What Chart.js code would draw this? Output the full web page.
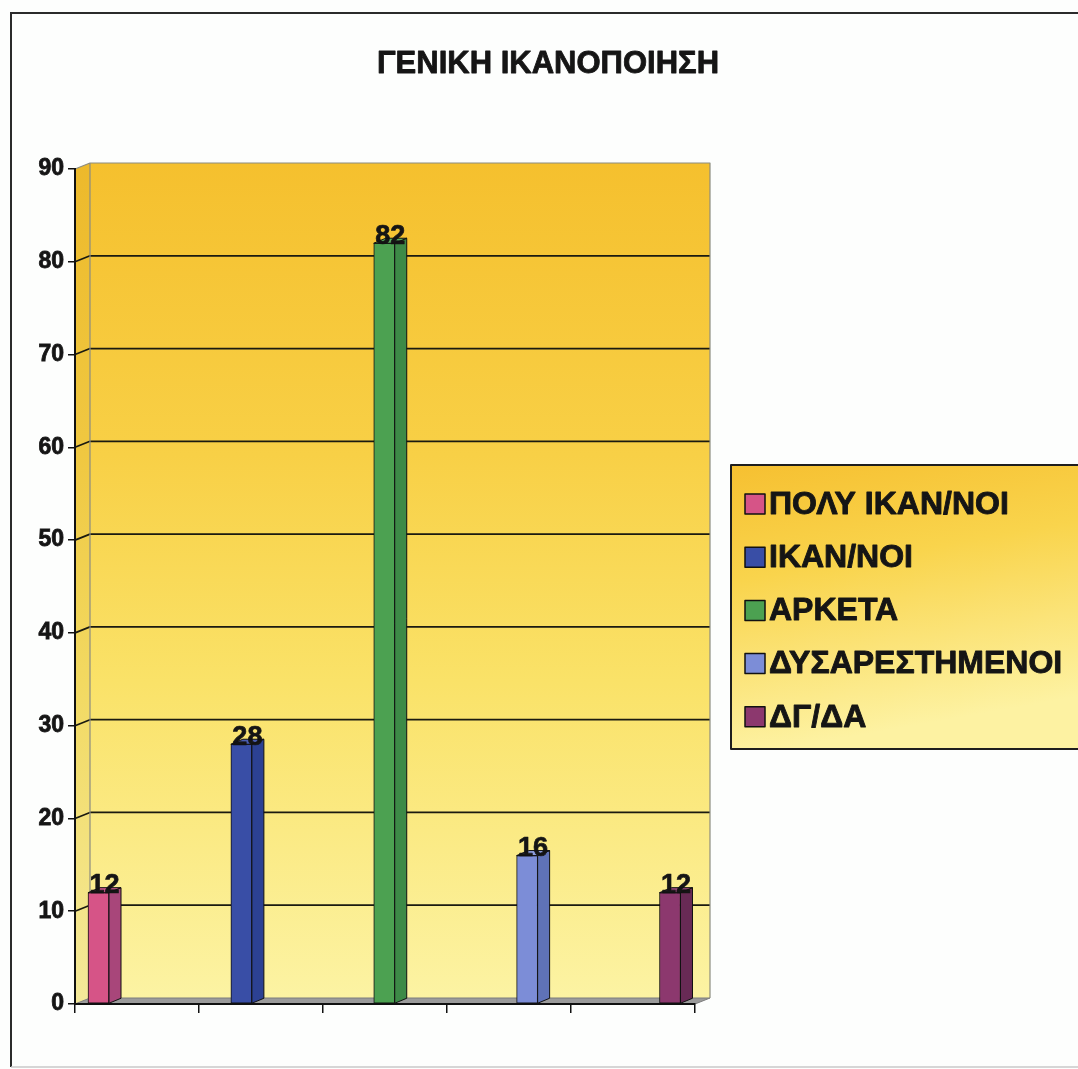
<!DOCTYPE html>
<html>
<head>
<meta charset="utf-8">
<title>ΓΕΝΙΚΗ ΙΚΑΝΟΠΟΙΗΣΗ</title>
<script src="https://cdn.jsdelivr.net/npm/chart.js@4.4.1/dist/chart.umd.min.js"></script>
<style>
  html, body { margin: 0; padding: 0; background: #ffffff; }
  canvas { display: block; }
</style>
</head>
<body>
<canvas id="chart" width="1078" height="1069"></canvas>
<script>
// ---- data ----
const chartTitle = 'ΓΕΝΙΚΗ ΙΚΑΝΟΠΟΙΗΣΗ';
const categories = ['ΠΟΛΥ ΙΚΑΝ/ΝΟΙ', 'ΙΚΑΝ/ΝΟΙ', 'ΑΡΚΕΤΑ', 'ΔΥΣΑΡΕΣΤΗΜΕΝΟΙ', 'ΔΓ/ΔΑ'];
const counts = [12, 28, 82, 16, 12];
const yTicks = [0, 10, 20, 30, 40, 50, 60, 70, 80, 90];

// ---- styling ----
const frontColors = ['#d65487', '#394ea6', '#4ca151', '#7c8dd7', '#8c386e'];
const sideColors  = ['#a8467a', '#2c4193', '#3d8a47', '#5f72b7', '#682a55'];
const topColors   = ['#c95a8c', '#4a5db0', '#5aae5e', '#8e9ddd', '#9a4a7c'];

const FONT = '"Liberation Sans", Arial, Helvetica, sans-serif';
const INK = '#151515';
const WALL_DX = 15, WALL_DY = -6;   // depth of the back wall
const BAR_DX = 12, BAR_DY = -5;     // depth of each column

function wallGradient(ctx, top, bottom) {
  const g = ctx.createLinearGradient(0, top, 0, bottom);
  g.addColorStop(0.00, '#f5c02e');
  g.addColorStop(0.35, '#f8d046');
  g.addColorStop(0.62, '#fae268');
  g.addColorStop(1.00, '#fcf3a3');
  return g;
}

// heavy text: fill plus a thin outline in the same ink
function heavyText(ctx, text, x, y, stroke) {
  ctx.fillText(text, x, y);
  ctx.lineWidth = stroke;
  ctx.strokeStyle = ctx.fillStyle;
  ctx.strokeText(text, x, y);
}

// Background, frame, title, 3D walls and legend panel
const scenery = {
  id: 'scenery',
  beforeDraw(chart) {
    const { ctx, chartArea: a, scales: { y } } = chart;
    const L = a.left, R = a.right, T = a.top, B = a.bottom;
    ctx.save();

    ctx.fillStyle = '#fdfefd';
    ctx.fillRect(0, 0, chart.width, chart.height);

    // outer frame
    ctx.strokeStyle = '#2b2b2b';
    ctx.lineWidth = 2;
    ctx.beginPath();
    ctx.moveTo(11, 1067);
    ctx.lineTo(11, 13);
    ctx.lineTo(chart.width + 2, 13);
    ctx.stroke();
    ctx.strokeStyle = '#c9c9c9';
    ctx.lineWidth = 1.5;
    ctx.beginPath();
    ctx.moveTo(11, 1067);
    ctx.lineTo(chart.width, 1067);
    ctx.stroke();

    // title
    ctx.fillStyle = INK;
    ctx.font = 'bold 31px ' + FONT;
    ctx.textAlign = 'center';
    ctx.textBaseline = 'middle';
    ctx.lineJoin = 'round';
    heavyText(ctx, chartTitle, 548, 64, 0.8);

    // back wall
    ctx.fillStyle = wallGradient(ctx, T + WALL_DY, B + WALL_DY);
    ctx.fillRect(L + WALL_DX, T + WALL_DY, R - L, B - T);

    // left side wall
    ctx.beginPath();
    ctx.moveTo(L, T);
    ctx.lineTo(L + WALL_DX, T + WALL_DY);
    ctx.lineTo(L + WALL_DX, B + WALL_DY);
    ctx.lineTo(L, B);
    ctx.closePath();
    ctx.fill();
    ctx.fillStyle = 'rgba(120,80,0,0.06)';
    ctx.fill();

    // floor
    ctx.fillStyle = '#9b9b9b';
    ctx.beginPath();
    ctx.moveTo(L, B);
    ctx.lineTo(L + WALL_DX, B + WALL_DY);
    ctx.lineTo(R + WALL_DX, B + WALL_DY);
    ctx.lineTo(R, B);
    ctx.closePath();
    ctx.fill();
    ctx.strokeStyle = '#7d7d7d';
    ctx.lineWidth = 1;
    ctx.stroke();

    // gridlines on the side and back walls
    ctx.strokeStyle = '#1a1a10';
    ctx.lineWidth = 1.7;
    yTicks.forEach(v => {
      if (v <= y.min || v >= y.max) return;
      const py = y.getPixelForValue(v);
      ctx.beginPath();
      ctx.moveTo(L, py);
      ctx.lineTo(L + WALL_DX, py + WALL_DY);
      ctx.lineTo(R + WALL_DX, py + WALL_DY);
      ctx.stroke();
    });

    // wall edges
    ctx.strokeStyle = '#8c8c80';
    ctx.lineWidth = 1.2;
    ctx.beginPath();
    ctx.moveTo(L, T);
    ctx.lineTo(L + WALL_DX, T + WALL_DY);
    ctx.lineTo(R + WALL_DX, T + WALL_DY);
    ctx.lineTo(R + WALL_DX, B + WALL_DY);
    ctx.moveTo(L + WALL_DX, T + WALL_DY);
    ctx.lineTo(L + WALL_DX, B + WALL_DY);
    ctx.stroke();

    // legend panel
    const lx = 731, ly = 465, lw = 370, lh = 284;
    const lg = ctx.createLinearGradient(lx, ly, lx + 50, ly + lh);
    lg.addColorStop(0.00, '#f6c031');
    lg.addColorStop(0.40, '#f9d44c');
    lg.addColorStop(1.00, '#fdf2a2');
    ctx.fillStyle = lg;
    ctx.fillRect(lx, ly, lw, lh);
    ctx.strokeStyle = '#1e1e1e';
    ctx.lineWidth = 2;
    ctx.strokeRect(lx, ly, lw, lh);

    ctx.font = 'bold 32px ' + FONT;
    ctx.textAlign = 'left';
    ctx.textBaseline = 'middle';
    categories.forEach((name, i) => {
      const cy = 504 + i * 53.2;
      ctx.fillStyle = frontColors[i];
      ctx.fillRect(745, cy - 10, 20, 20);
      ctx.strokeStyle = '#111';
      ctx.lineWidth = 1.5;
      ctx.strokeRect(745, cy - 10, 20, 20);
      ctx.fillStyle = INK;
      heavyText(ctx, name, 769, cy + 1, 0.9);
    });

    ctx.restore();
  }
};

// Side and top faces of each column plus the value labels
const columns3d = {
  id: 'columns3d',
  afterDatasetsDraw(chart) {
    const { ctx } = chart;
    const meta = chart.getDatasetMeta(0);
    ctx.save();
    meta.data.forEach((bar, i) => {
      const { x, y, base, width } = bar.getProps(['x', 'y', 'base', 'width'], true);
      const left = x - width / 2, right = x + width / 2;

      ctx.lineWidth = 1;
      ctx.strokeStyle = '#111';
      ctx.lineJoin = 'round';

      ctx.beginPath();
      ctx.moveTo(right, y);
      ctx.lineTo(right + BAR_DX, y + BAR_DY);
      ctx.lineTo(right + BAR_DX, base + BAR_DY);
      ctx.lineTo(right, base);
      ctx.closePath();
      ctx.fillStyle = sideColors[i];
      ctx.fill();
      ctx.stroke();

      const topFace = new Path2D();
      topFace.moveTo(left, y);
      topFace.lineTo(right, y);
      topFace.lineTo(right + BAR_DX, y + BAR_DY);
      topFace.lineTo(left + BAR_DX, y + BAR_DY);
      topFace.closePath();
      ctx.fillStyle = topColors[i];
      ctx.fill(topFace);

      // value label, with the top face outline crossing it
      ctx.fillStyle = INK;
      ctx.font = 'bold 27px ' + FONT;
      ctx.textAlign = 'center';
      ctx.textBaseline = 'middle';
      heavyText(ctx, String(counts[i]), x + BAR_DX / 2, y - 7, 0.7);

      ctx.lineWidth = 1;
      ctx.strokeStyle = '#111';
      ctx.stroke(topFace);
    });
    ctx.restore();
  }
};

new Chart(document.getElementById('chart'), {
  type: 'bar',
  data: {
    labels: categories,
    datasets: [{
      label: chartTitle,
      data: counts.map((v, i) => ({ x: i, y: v })),
      xAxisID: 'xb',
      yAxisID: 'y',
      backgroundColor: frontColors,
      borderColor: '#111',
      borderWidth: 1,
      borderSkipped: false,
      barThickness: 21
    }]
  },
  options: {
    responsive: false,
    animation: false,
    events: [],
    layout: { padding: { left: 0, right: 383, top: 169, bottom: 65 } },
    plugins: {
      legend: { display: false },
      title: { display: false },
      tooltip: { enabled: false }
    },
    scales: {
      x: {
        type: 'linear',
        position: 'bottom',
        offset: false,
        min: 0,
        max: 5,
        ticks: { stepSize: 1, display: false },
        grid: { offset: false, drawOnChartArea: false, drawTicks: true, tickLength: 9, color: '#111', lineWidth: 1.5 },
        border: { display: true, color: '#111', width: 2 },
        afterFit(s) { s.height = 0; }
      },
      xb: {
        type: 'linear',
        display: false,
        offset: false,
        min: -0.1645,
        max: 4.175
      },
      y: {
        type: 'linear',
        position: 'left',
        min: 0,
        max: 90,
        afterBuildTicks(s) { s.ticks = yTicks.map(v => ({ value: v })); },
        ticks: {
          color: INK, padding: 4,
          textStrokeColor: INK, textStrokeWidth: 0.8,
          font: { family: FONT, size: 23, weight: 'bold' }
        },
        grid: { drawOnChartArea: false, drawTicks: true, tickLength: 7, color: '#111', lineWidth: 1.5 },
        border: { display: true, color: '#111', width: 2 },
        afterFit(s) { s.width = 75; }
      }
    }
  },
  plugins: [scenery, columns3d]
});
</script>
</body>
</html>
